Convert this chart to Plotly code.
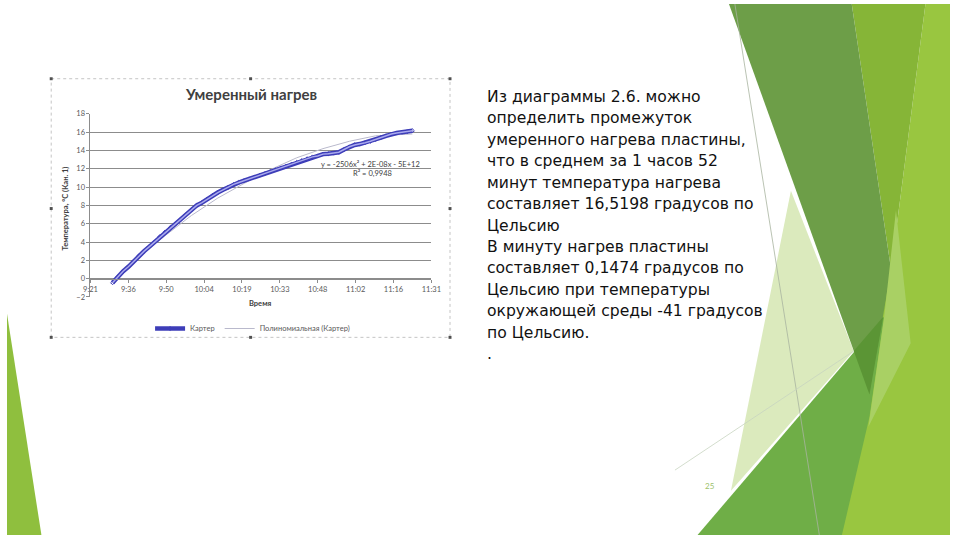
import plotly.graph_objects as go

# --- chart data ---
times = ['09:30', '09:32', '09:34', '09:36', '09:38', '09:40', '09:42', '09:44', '09:46', '09:48',
         '09:50', '09:52', '09:54', '09:56', '09:58', '10:00', '10:02', '10:04', '10:06', '10:08',
         '10:10', '10:12', '10:14', '10:16', '10:18', '10:20', '10:22', '10:24', '10:26', '10:28',
         '10:30', '10:32', '10:34', '10:36', '10:38', '10:40', '10:42', '10:44', '10:46', '10:48',
         '10:50', '10:52', '10:54', '10:56', '10:58', '11:00', '11:02', '11:04', '11:06', '11:08',
         '11:10', '11:12', '11:14', '11:16', '11:18', '11:20', '11:22', '11:24']
temps = [-0.45, 0.2, 0.8, 1.3, 1.9, 2.5, 3.0, 3.5, 4.0, 4.6,
         5.1, 5.6, 6.0, 6.5, 7.0, 7.5, 8.0, 8.3, 8.7, 9.1,
         9.4, 9.7, 10.0, 10.3, 10.5, 10.7, 10.9, 11.1, 11.3, 11.5,
         11.7, 11.9, 12.1, 12.3, 12.5, 12.7, 12.9, 13.1, 13.3, 13.4,
         13.6, 13.65, 13.7, 13.8, 14.1, 14.4, 14.6, 14.7, 14.85, 15.0,
         15.2, 15.4, 15.6, 15.8, 15.9, 16.0, 16.05, 16.15]

trend_times = ['09:30', '09:40', '09:50', '10:00', '10:10', '10:20', '10:30', '10:40', '10:50',
               '11:00', '11:10', '11:24']
trend_vals = [-0.2, 2.4, 4.7, 6.9, 8.8, 10.4, 11.9, 13.2, 14.2, 15.0, 15.6, 15.8]

equation = 'y = -2506x² + 2E-08x - 5E+12'
r_squared = 'R² = 0,9948'

slide_lines = ['Из диаграммы 2.6. можно', 'определить промежуток', 'умеренного нагрева пластины,',
               'что в среднем за 1 часов 52', 'минут температура нагрева',
               'составляет 16,5198 градусов по', 'Цельсию', 'В минуту нагрев пластины',
               'составляет 0,1474 градусов по', 'Цельсию при температуры',
               'окружающей среды -41 градусов', 'по Цельсию.', '.']

day = '2024-01-01 '


def X(px):
    return px / 960


def Y(py):
    return 1 - py / 540


fig = go.Figure()

fig.add_trace(go.Scatter(
    x=[day + t for t in trend_times], y=trend_vals, mode='lines',
    name='Полиномиальная (Картер)', line=dict(color='#b9b9cc', width=1)))
fig.add_trace(go.Scatter(
    x=[day + t for t in times], y=temps, mode='lines+markers', name='Картер',
    line=dict(color='#3d3db8', width=4.5),
    marker=dict(symbol='diamond-open', size=3, color='#3d3db8')))
fig.add_trace(go.Scatter(
    x=[day + t for t in times], y=temps, mode='lines', showlegend=False,
    line=dict(color='#aaaaee', width=1.5), hoverinfo='skip'))

# --- slide decoration (green facets) ---
polys = [
    ('#99c640', [(900, 270), (935, 0), (960, 0), (960, 540), (820, 540)]),
    ('#86b537', [(860, 0), (935, 0), (900, 270)]),
    ('#dbeabd', [(798, 190), (862, 353), (737, 495)]),
    ('#6d9e48', [(735, 0), (860, 0), (900, 270), (878, 397)]),
    ('#6fae47', [(703, 540), (893, 318), (878, 420), (850, 540)]),
    ('#a9d064', [(905, 210), (920, 345), (877, 430), (893, 318)]),
    ('#5b9535', [(862, 353), (892, 318), (878, 397)]),
    ('#8fbf3e', [(0, 315), (35, 540), (0, 540)]),
]
shapes = []
for col, pts in polys:
    path = 'M ' + ' L '.join('%.4f,%.4f' % (X(a), Y(b)) for a, b in pts) + ' Z'
    shapes.append(dict(type='path', path=path, xref='paper', yref='paper',
                       fillcolor=col, line=dict(width=0), layer='below'))
shapes.append(dict(type='line', xref='paper', yref='paper', x0=X(741), y0=Y(0), x1=X(827), y1=Y(540),
                   line=dict(color='#a8b4a0', width=0.8)))
shapes.append(dict(type='line', xref='paper', yref='paper', x0=X(680), y0=Y(474), x1=X(862), y1=Y(353),
                   line=dict(color='#c8d4c0', width=0.8)))

# chart frame with handles
shapes.append(dict(type='rect', xref='paper', yref='paper', x0=X(45), y0=Y(76), x1=X(451), y1=Y(339),
                   line=dict(color='#c4c4c4', width=1, dash='dot')))
for hx in (45, 248, 451):
    for hy in (76, 208, 339):
        if hx == 248 and hy == 208:
            continue
        shapes.append(dict(type='rect', xref='paper', yref='paper',
                           x0=X(hx - 1.5), y0=Y(hy - 1.5), x1=X(hx + 1.5), y1=Y(hy + 1.5),
                           fillcolor='#505050', line=dict(width=0)))

annotations = [
    dict(text='<b>Умеренный нагрев</b>', x=X(248), y=Y(92), font=dict(size=15, color='#404040', family='Lato')),
    dict(text='<b>Температура, °С (Кан. 1)</b>', x=X(60), y=Y(208), textangle=-90,
         font=dict(size=7.5, color='#404040', family='Lato')),
    dict(text='<b>Время</b>', x=X(258), y=Y(305), font=dict(size=7.5, color='#404040', family='Lato')),
    dict(text=equation, x=X(370), y=Y(163), font=dict(size=7.5, color='#404040', family='Lato')),
    dict(text=r_squared, x=X(372), y=Y(172), font=dict(size=7.5, color='#404040', family='Lato')),
    dict(text='25', x=X(716), y=Y(490), font=dict(size=8, color='#9cbf6a', family='Lato')),
]
for i, line in enumerate(slide_lines):
    annotations.append(dict(text=line, x=X(487), y=Y(94.5 + 21.8 * i), xanchor='left',
                            font=dict(size=15.6, color='#111111', family='DejaVu Sans')))
for a in annotations:
    a.setdefault('xref', 'paper')
    a.setdefault('yref', 'paper')
    a.setdefault('showarrow', False)
    a.setdefault('xanchor', 'center')
    a.setdefault('yanchor', 'middle')

fig.update_layout(
    autosize=True,
    margin=dict(l=0, r=0, t=0, b=0),
    paper_bgcolor='white', plot_bgcolor='rgba(0,0,0,0)',
    font=dict(family='Lato', size=7.5, color='#595959'),
    shapes=shapes, annotations=annotations,
    legend=dict(orientation='h', x=X(250), y=Y(330), xanchor='center', yanchor='middle',
                font=dict(size=7.5, color='#595959'), itemwidth=30, traceorder='reversed',
                bgcolor='rgba(0,0,0,0)'),
    xaxis=dict(
        domain=[X(85), X(432)], anchor='free', position=Y(279.3), type='date',
        range=[day + '09:21:36', day + '11:31:12'],
        tick0=day + '09:21:36', dtick=864000, tickformat='%-H:%M',
        showgrid=False, showline=True, linecolor='#8c8c8c', linewidth=1,
        ticks='outside', ticklen=3, tickcolor='#8c8c8c', tickfont=dict(size=7.5, color='#595959')),
    yaxis=dict(
        domain=[Y(297.9), Y(111.7)], range=[-2, 18], dtick=2,
        showgrid=True, gridcolor='#8c8c8c', gridwidth=1, zeroline=False,
        showline=True, linecolor='#8c8c8c', ticks='outside', ticklen=3, tickcolor='#8c8c8c',
        tickfont=dict(size=7.5, color='#595959')),
)

# figure fills the whole browser window (no page margin)
fig.write_html('out.html', config={'displayModeBar': False, 'responsive': True},
               default_width='100vw', default_height='100vh',
               post_script="document.body.style.margin='0';document.body.style.overflow='hidden';"
                           "window.dispatchEvent(new Event('resize'));")
